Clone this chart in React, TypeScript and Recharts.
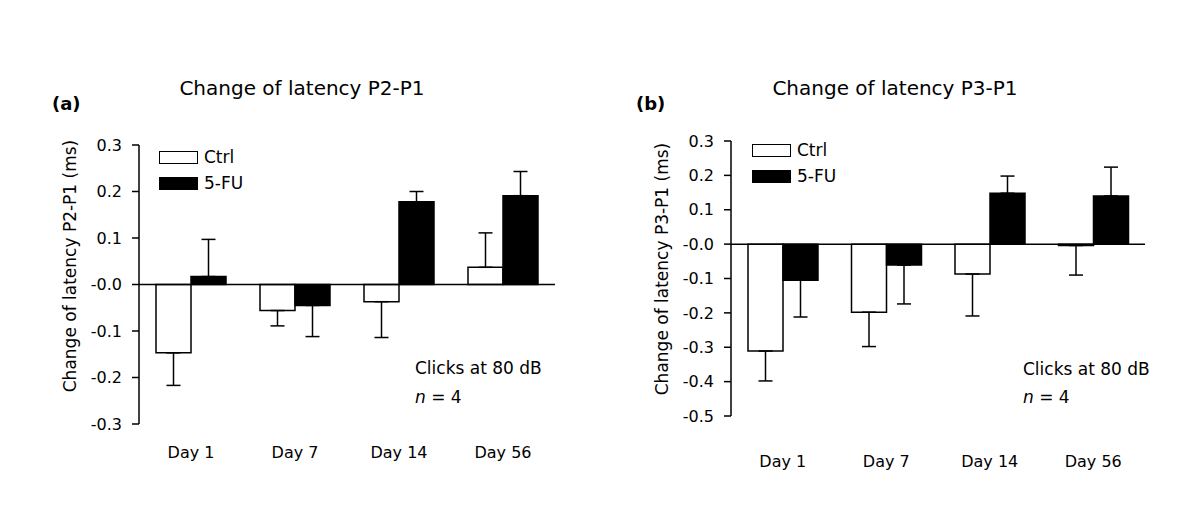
import { BarChart, Bar, XAxis, YAxis, ErrorBar, ReferenceLine, Legend } from "recharts";

const days = ["Day 1", "Day 7", "Day 14", "Day 56"];
const seriesNames = ["Ctrl", "5-FU"];

// panel (a): P2-P1
const ctrlP2 = [-0.147, -0.056, -0.037, 0.037];
const ctrlP2Err = [0.07, 0.033, 0.077, 0.074];
const fuP2 = [0.017, -0.045, 0.178, 0.191];
const fuP2Err = [0.08, 0.067, 0.022, 0.052];
const ticksP2 = [0.3, 0.2, 0.1, 0, -0.1, -0.2, -0.3];

// panel (b): P3-P1
const ctrlP3 = [-0.311, -0.198, -0.087, -0.004];
const ctrlP3Err = [0.087, 0.1, 0.122, 0.086];
const fuP3 = [-0.105, -0.061, 0.148, 0.14];
const fuP3Err = [0.107, 0.113, 0.05, 0.084];
const ticksP3 = [0.3, 0.2, 0.1, 0, -0.1, -0.2, -0.3, -0.4, -0.5];

const FONT = "'DejaVu Sans', sans-serif";

// error bars only point away from zero
const oneSided = (v: number, e: number) => (v < 0 ? [e, 0] : [0, e]);

const buildRows = (ctrl: number[], ctrlErr: number[], fu: number[], fuErr: number[]) =>
  days.map((day, i) => ({
    day,
    ctrl: ctrl[i],
    ctrlErr: oneSided(ctrl[i], ctrlErr[i]),
    fu: fu[i],
    fuErr: oneSided(fu[i], fuErr[i]),
  }));

const fmtTick = (v: number) => (v === 0 ? "-0.0" : v.toFixed(1));

function LegendBox({ left, top }: { left: number; top: number }) {
  return (
    <div
      style={{
        position: "absolute",
        left,
        top,
        width: 140,
        whiteSpace: "nowrap",
        fontFamily: FONT,
        fontSize: 17,
        color: "#000",
      }}
    >
      {seriesNames.map((name, i) => (
        <div key={name} style={{ display: "flex", alignItems: "center", height: 26 }}>
          <div
            style={{
              width: 37,
              height: 11,
              flexShrink: 0,
              background: i === 0 ? "#fff" : "#000",
              border: "1.5px solid #000",
              marginRight: 6,
            }}
          />
          <span>{name}</span>
        </div>
      ))}
    </div>
  );
}

interface PanelProps {
  left: number;
  rows: any[];
  ticks: number[];
  margin: { top: number; right: number; bottom: number; left: number };
  xHeight: number;
  xTickMargin: number;
  legendLeft: number;
  legendTop: number;
}

function Panel({ left, rows, ticks, margin, xHeight, xTickMargin, legendLeft, legendTop }: PanelProps) {
  const tickStyle = { fill: "#000", fontSize: 16, fontFamily: FONT };
  return (
    <div style={{ position: "absolute", left, top: 0 }}>
      <BarChart width={600} height={525} data={rows} margin={margin} barGap={0} barCategoryGap={17}>
        <XAxis
          dataKey="day"
          axisLine={false}
          tickLine={false}
          tickSize={0}
          tickMargin={xTickMargin}
          height={xHeight}
          tick={tickStyle}
          interval={0}
        />
        <YAxis
          type="number"
          domain={[ticks[ticks.length - 1], ticks[0]]}
          ticks={ticks}
          tickFormatter={fmtTick}
          width={60}
          tickSize={7}
          tickMargin={10}
          tick={tickStyle}
          axisLine={{ stroke: "#000", strokeWidth: 1.5 }}
          tickLine={{ stroke: "#000", strokeWidth: 1.5 }}
          allowDataOverflow
        />
        <ReferenceLine y={0} stroke="#000" strokeWidth={1.5} />
        <Bar dataKey="ctrl" fill="#fff" stroke="#000" strokeWidth={1.5} isAnimationActive={false}>
          <ErrorBar dataKey="ctrlErr" width={7} stroke="#000" strokeWidth={1.5} isAnimationActive={false} />
        </Bar>
        <Bar dataKey="fu" fill="#000" stroke="#000" strokeWidth={1.5} isAnimationActive={false}>
          <ErrorBar dataKey="fuErr" width={7} stroke="#000" strokeWidth={1.5} isAnimationActive={false} />
        </Bar>
        <Legend
          layout="vertical"
          align="center"
          verticalAlign="middle"
          wrapperStyle={{ left: 0, top: 0, width: 600, height: 0 }}
          content={() => <LegendBox left={legendLeft} top={legendTop} />}
        />
      </BarChart>
    </div>
  );
}

export default function App() {
  const rowsA = buildRows(ctrlP2, ctrlP2Err, fuP2, fuP2Err);
  const rowsB = buildRows(ctrlP3, ctrlP3Err, fuP3, fuP3Err);
  return (
    <div style={{ position: "absolute", left: 0, top: 0, width: 1200, height: 525, background: "#fff" }}>
      <Panel
        left={0}
        rows={rowsA}
        ticks={ticksP2}
        margin={{ top: 145, right: 45, bottom: 71, left: 79 }}
        xHeight={30}
        xTickMargin={23}
        legendLeft={159}
        legendTop={144}
      />
      <Panel
        left={600}
        rows={rowsB}
        ticks={ticksP3}
        margin={{ top: 141, right: 55, bottom: 49, left: 71 }}
        xHeight={60}
        xTickMargin={40}
        legendLeft={152}
        legendTop={137}
      />
      <svg
        width={1200}
        height={525}
        style={{ position: "absolute", left: 0, top: 0, pointerEvents: "none", fontFamily: FONT }}
      >
        <text x={52} y={110} fontSize={18} fontWeight="bold">(a)</text>
        <text x={636} y={110} fontSize={18} fontWeight="bold">(b)</text>
        <text x={302} y={88} fontSize={20} textAnchor="middle" dominantBaseline="central">
          Change of latency P2-P1
        </text>
        <text x={895} y={88} fontSize={20} textAnchor="middle" dominantBaseline="central">
          Change of latency P3-P1
        </text>
        <text
          x={70}
          y={266}
          fontSize={17}
          textAnchor="middle"
          dominantBaseline="central"
          transform="rotate(-90 70 266)"
        >
          Change of latency P2-P1 (ms)
        </text>
        <text
          x={662}
          y={269}
          fontSize={17}
          textAnchor="middle"
          dominantBaseline="central"
          transform="rotate(-90 662 269)"
        >
          Change of latency P3-P1 (ms)
        </text>
        <text x={415} y={368} fontSize={17} dominantBaseline="central">Clicks at 80 dB</text>
        <text x={415} y={397} fontSize={17} dominantBaseline="central">
          <tspan fontStyle="italic">n</tspan> = 4
        </text>
        <text x={1023} y={369} fontSize={17} dominantBaseline="central">Clicks at 80 dB</text>
        <text x={1023} y={397} fontSize={17} dominantBaseline="central">
          <tspan fontStyle="italic">n</tspan> = 4
        </text>
      </svg>
    </div>
  );
}
